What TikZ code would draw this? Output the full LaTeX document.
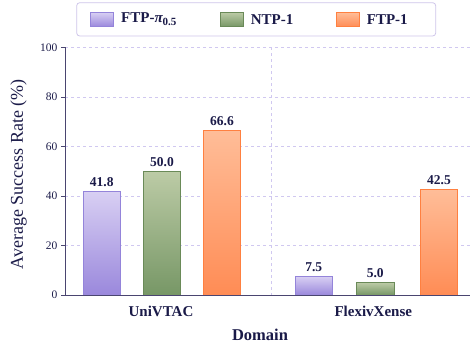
\documentclass[tikz,border=0pt]{standalone}
\usepackage{fontspec}
\setmainfont{Liberation Serif}
\definecolor{txt}{HTML}{1A1A48}
\definecolor{axc}{HTML}{4A4570}
\definecolor{gridc}{HTML}{D0C8F0}
\definecolor{ptop}{HTML}{D8CFF3}
\definecolor{pbot}{HTML}{9A88DC}
\definecolor{pbrd}{HTML}{9484DA}
\definecolor{gtop}{HTML}{BCCBA6}
\definecolor{gbot}{HTML}{779766}
\definecolor{gbrd}{HTML}{6A8A58}
\definecolor{otop}{HTML}{FFBD98}
\definecolor{obot}{HTML}{FF8C55}
\definecolor{obrd}{HTML}{FF8040}
\definecolor{legbrd}{HTML}{CFC6EA}
\newcommand\mybar[6]{%
  \path[#4] ({#1-18.7},295) rectangle ({#1+18.7},{295-#2*2.476});
  \node[vlab] (#6) at (#1,{295-#2*2.476}) {#5};
}
\begin{document}
\begin{tikzpicture}[x=1pt,y=-1pt,
  every node/.style={text=txt,font=\bfseries},
  pbar/.style={draw=pbrd,line width=0.8pt,top color=ptop,bottom color=pbot},
  gbar/.style={draw=gbrd,line width=0.8pt,top color=gtop,bottom color=gbot},
  obar/.style={draw=obrd,line width=0.8pt,top color=otop,bottom color=obot},
  vlab/.style={anchor=south,inner sep=0pt,yshift=4.5pt,font=\bfseries\fontsize{13.5}{15}\selectfont},
  tlab/.style={anchor=east,inner sep=0pt,font=\fontsize{11.5}{13}\selectfont},
  clab/.style={inner sep=0pt,font=\bfseries\fontsize{15}{17}\selectfont},
  gridl/.style={draw=gridc,line width=0.6pt,dash pattern=on 3pt off 3pt},
  axl/.style={draw=axc,line width=1pt},
  legt/.style={anchor=west,inner sep=0pt,font=\bfseries\fontsize{15}{17}\selectfont},
]
\useasboundingbox (0,0) rectangle (471,345);
% grid
\foreach \v in {20,40,60,80,100}{
  \draw[gridl] (65,{295-\v*2.476}) -- (471,{295-\v*2.476});
}
\draw[gridl] (271,47.4) -- (271,295);
% bars
\mybar{101.7}{41.8}{x}{pbar}{41.8}{v1}
\mybar{162}{50.0}{x}{gbar}{50.0}{v2}
\mybar{222}{66.6}{x}{obar}{66.6}{v3}
\mybar{313.7}{7.5}{x}{pbar}{7.5}{v4}
\mybar{375.3}{5.0}{x}{gbar}{5.0}{v5}
\mybar{439}{42.5}{x}{obar}{42.5}{v6}
% axes
\draw[axl] (65,47.4) -- (65,295) -- (470,295);
\foreach \v in {0,20,40,60,80,100}{
  \draw[axc,line width=0.8pt] (61,{295-\v*2.476}) -- (65,{295-\v*2.476});
  \node[tlab] (t\v) at (57.5,{295-\v*2.476}) {\v};
}
% labels
\node[clab] (c1) at (161,311.5) {UniVTAC};
\node[clab] (c2) at (373.3,311.5) {FlexivXense};
\node[inner sep=0pt,font=\bfseries\fontsize{16.5}{18}\selectfont] (xl) at (260,334.5) {Domain};
\node[inner sep=0pt,rotate=90,font=\fontsize{18}{20}\selectfont] (yl) at (18.5,174.5) {Average Success Rate (\%)};
% legend
\draw[draw=legbrd,line width=0.8pt,fill=white,rounded corners=3pt] (76.7,2.7) rectangle (435.7,36);
\path[pbar] (90,12.3) rectangle (113.3,26.7);
\node[legt] (l1) at (121,19.5) {FTP-{\itshape π}\raisebox{-3pt}{\fontsize{11}{12}\selectfont 0.5}};
\path[gbar] (220,12.3) rectangle (243.3,26.7);
\node[legt] (l2) at (250.7,19.5) {NTP-1};
\path[obar] (336,12.3) rectangle (359,26.7);
\node[legt] (l3) at (366.7,19.5) {FTP-1};
\end{tikzpicture}
\end{document}
